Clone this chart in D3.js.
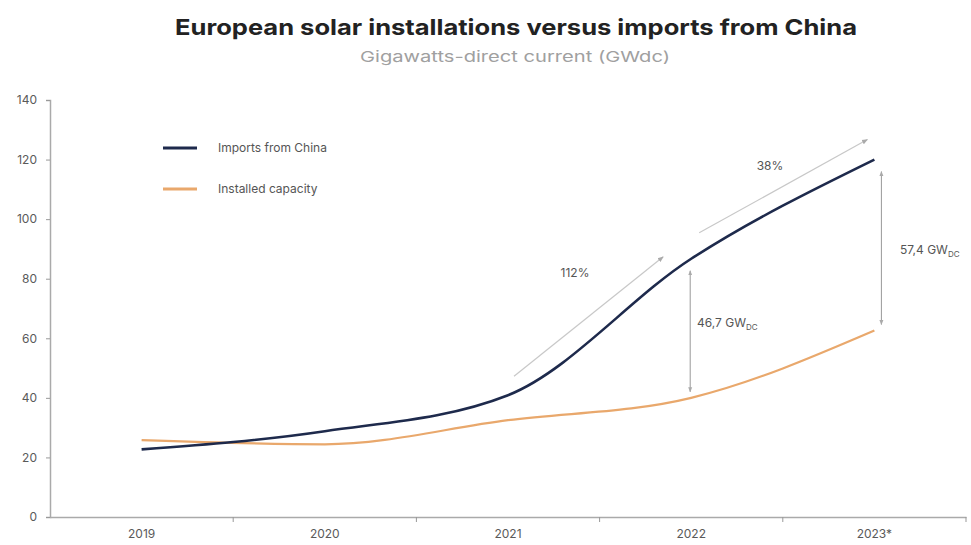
<!DOCTYPE html>
<html lang="en">
<head>
<meta charset="utf-8">
<title>European solar installations versus imports from China</title>
<script src="https://d3js.org/d3.v7.min.js"></script>
<style>
  body { margin: 0; background: #fff; }
  text { font-family: Inter, "Liberation Sans", sans-serif; }
</style>
</head>
<body>
<svg id="chart"></svg>
<script>
var years = ["2019", "2020", "2021", "2022", "2023*"];
var imports = [22.7, 28.8, 40.9, 86.7, 120.0];
var installed = [25.8, 24.4, 32.5, 40.0, 62.6];
var yTicks = [0, 20, 40, 60, 80, 100, 120, 140];
var growth = ["112%", "38%"];
var gaps = ["46,7", "57,4"];

var width = 971, height = 545;
var border = {left: 50, right: 5, top: 100, bottom: 28};

var svg = d3.select("#chart").attr("width", width).attr("height", height);

var xScale = d3.scaleBand()
  .domain(years)
  .range([border.left, width - border.right]);

var yScale = d3.scaleLinear()
  .domain([0, 140])
  .range([height - border.bottom, border.top]);

var cx = d => xScale(d) + xScale.bandwidth() / 2;

// title
svg.append("text")
  .attr("x", 516).attr("y", 35)
  .attr("text-anchor", "middle")
  .attr("font-size", 22).attr("font-weight", "bold")
  .attr("fill", "#222")
  .attr("textLength", 682).attr("lengthAdjust", "spacingAndGlyphs")
  .text("European solar installations versus imports from China");

svg.append("text")
  .attr("x", 515).attr("y", 62)
  .attr("text-anchor", "middle")
  .attr("font-size", 15)
  .attr("fill", "#a0a0a0")
  .attr("textLength", 310).attr("lengthAdjust", "spacingAndGlyphs")
  .text("Gigawatts-direct current (GWdc)");

// axes
var yAxis = svg.append("g")
  .attr("transform", "translate(" + border.left + ",0)")
  .call(d3.axisLeft(yScale).tickValues(yTicks).tickSize(4).tickPadding(9));

var xAxis = svg.append("g")
  .attr("transform", "translate(0," + (height - border.bottom) + ")")
  .call(d3.axisBottom(xScale).tickSize(0).tickPadding(12));

// band edge ticks on x axis
xAxis.selectAll("line.edge")
  .data(years.slice(1).concat(["end"]))
  .enter().append("line")
  .attr("class", "edge")
  .attr("x1", (d, i) => i < years.length - 1 ? xScale(d) : width - border.right)
  .attr("x2", (d, i) => i < years.length - 1 ? xScale(d) : width - border.right)
  .attr("y1", 0).attr("y2", 5)
  .attr("stroke", "#999");

[yAxis, xAxis].forEach(function(a) {
  a.select(".domain").attr("stroke", "#aaa").attr("stroke-width", 1.5);
  a.selectAll(".tick line").attr("stroke", "#999");
  a.selectAll("text").attr("fill", "#5a5a5a").attr("font-size", 12);
});

// lines
var line = d3.line()
  .x((d, i) => cx(years[i]))
  .y(d => yScale(d))
  .curve(d3.curveMonotoneX);

svg.append("path")
  .datum(installed)
  .attr("d", line)
  .attr("fill", "none")
  .attr("stroke", "#e9a86c")
  .attr("stroke-width", 2.2);

svg.append("path")
  .datum(imports)
  .attr("d", line)
  .attr("fill", "none")
  .attr("stroke", "#1e2a4c")
  .attr("stroke-width", 2.6);

// legend
var legend = [["Imports from China", "#1e2a4c"], ["Installed capacity", "#e9a86c"]];
legend.forEach(function(l, i) {
  var y = 148 + i * 41;
  svg.append("line")
    .attr("x1", 163).attr("x2", 197).attr("y1", y).attr("y2", y)
    .attr("stroke", l[1]).attr("stroke-width", 2.8);
  svg.append("text")
    .attr("x", 218).attr("y", y + 4)
    .attr("font-size", 12).attr("fill", "#555")
    .text(l[0]);
});

// arrow markers
svg.append("defs").append("marker")
  .attr("id", "arr")
  .attr("viewBox", "0 0 10 10")
  .attr("refX", 9).attr("refY", 5)
  .attr("markerWidth", 5).attr("markerHeight", 5)
  .attr("orient", "auto-start-reverse")
  .append("path")
  .attr("d", "M0,1 L10,5 L0,9 Z")
  .attr("fill", "#aaa");

// growth arrows, offset above the imports line
var growthSeg = [[2, 3], [3, 4]];
var growthOff = [[[6, -19], [-28, -2]], [[8, -26], [-7, -20]]];
var growthLbl = [[575, 277], [770, 170]];
growthSeg.forEach(function(s, i) {
  var o = growthOff[i];
  svg.append("line")
    .attr("x1", cx(years[s[0]]) + o[0][0]).attr("y1", yScale(imports[s[0]]) + o[0][1])
    .attr("x2", cx(years[s[1]]) + o[1][0]).attr("y2", yScale(imports[s[1]]) + o[1][1])
    .attr("stroke", "#c8c8c8").attr("stroke-width", 1.2)
    .attr("marker-end", "url(#arr)");
  svg.append("text")
    .attr("x", growthLbl[i][0]).attr("y", growthLbl[i][1])
    .attr("text-anchor", "middle")
    .attr("font-size", 12).attr("fill", "#555")
    .text(growth[i]);
});

// gap arrows between the two series
var gapIdx = [3, 4];
var gapDx = [-1, 7];
var gapLbl = [[697, 327], [900, 254]];
gapIdx.forEach(function(k, i) {
  var x = cx(years[k]) + gapDx[i];
  svg.append("line")
    .attr("x1", x).attr("x2", x)
    .attr("y1", yScale(imports[k]) + 12)
    .attr("y2", yScale(installed[k]) - 6)
    .attr("stroke", "#999").attr("stroke-width", 1)
    .attr("marker-start", "url(#arr)")
    .attr("marker-end", "url(#arr)");
  var t = svg.append("text")
    .attr("x", gapLbl[i][0]).attr("y", gapLbl[i][1])
    .attr("font-size", 12).attr("fill", "#555");
  t.append("tspan").text(gaps[i] + " GW");
  t.append("tspan").attr("font-size", 8).attr("dy", 3).text("DC");
});
</script>
</body>
</html>
